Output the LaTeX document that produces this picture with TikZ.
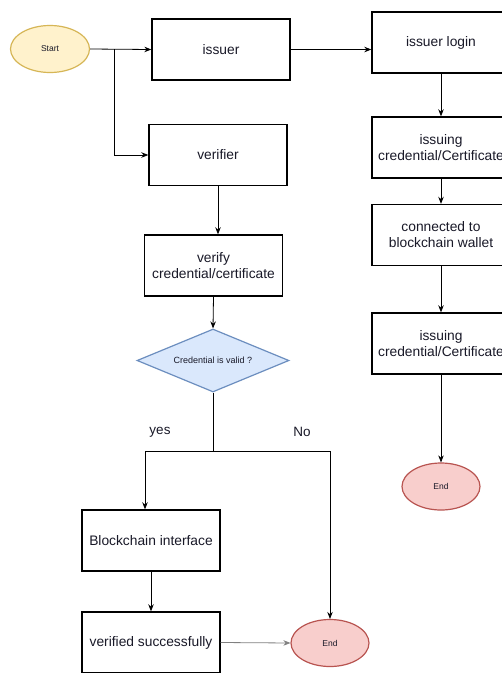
\documentclass[tikz,border=0pt]{standalone}
\usepackage{fontspec}
\setmainfont{Liberation Sans}
\usetikzlibrary{arrows.meta,shapes.geometric}
\definecolor{txt}{RGB}{25,25,40}
\definecolor{startfill}{HTML}{FFF2CC}
\definecolor{startdraw}{HTML}{D6B656}
\definecolor{endfill}{HTML}{F8CECC}
\definecolor{enddraw}{HTML}{B85450}
\definecolor{decfill}{HTML}{DAE8FC}
\definecolor{decdraw}{HTML}{6C8EBF}
\begin{document}
\begin{tikzpicture}[x=1pt,y=-1pt,
  box/.style={draw=black,line width=1.4pt,minimum width=138pt,minimum height=61pt,inner sep=0pt,align=center,font=\fontsize{13.8}{16}\selectfont,text=txt},
  startn/.style={ellipse,draw=startdraw,fill=startfill,line width=1.2pt,minimum width=79pt,minimum height=47pt,inner sep=0pt,font=\fontsize{8.5}{10}\selectfont,text=txt},
  endn/.style={ellipse,draw=enddraw,fill=endfill,line width=1.2pt,minimum width=78pt,minimum height=47pt,inner sep=0pt,font=\fontsize{8.5}{10}\selectfont,text=txt},
  decision/.style={diamond,aspect=2.41,draw=decdraw,fill=decfill,line width=1.2pt,minimum width=152pt,minimum height=63pt,inner sep=0pt,font=\fontsize{9}{10}\selectfont,text=txt},
  lbl/.style={font=\fontsize{13.5}{15}\selectfont,text=txt},
  conn/.style={draw=black,line width=0.8pt,-{Stealth[length=7pt,width=5.5pt]}},
  plain/.style={draw=black,line width=0.8pt}]
\useasboundingbox (0,0) rectangle (502,673);
\fill[white] (0,0) rectangle (502,673);

\node[startn] (start) at (50,49) {Start};
\node[box] (issuer) at (221,49.5) {issuer};
\node[box] (login) at (441,42.5) {issuer login};
\node[box] (iss1) at (441,147.5) {issuing\\credential/Certificate};
\node[box] (wallet) at (441,235) {connected to\\blockchain wallet};
\node[box] (iss2) at (441,343.5) {issuing\\credential/Certificate};
\node[endn] (end1) at (441,486.5) {End};

\node[box] (verifier) at (218,155) {verifier};
\node[box] (verify) at (213.5,265.5) {verify\\credential/certificate};
\node[decision] (valid) at (213,360.5) {Credential is valid ?};
\node[lbl] (yes) at (160,432) {yes};
\node[lbl] (no) at (302,432) {No};
\node[box] (bci) at (151,540.5) {Blockchain interface};
\node[box] (vsucc) at (151,642.5) {verified successfully};
\node[endn] (end2) at (330,643) {End};

\coordinate (sb) at (114,49);
\coordinate (split) at (213,451);
\coordinate (yl) at (145,451);
\coordinate (nr) at (330,451);

\draw[conn] (start.east) -- (issuer.west);
\draw[conn] (sb) |- (verifier.west);
\draw[conn] (issuer.east) -- (issuer.east -| login.west);
\draw[conn] (login.south) -- (iss1.north);
\draw[conn] (iss1.south) -- (wallet.north);
\draw[conn] (wallet.south) -- (iss2.north);
\draw[conn] (iss2.south) -- (end1.north);
\draw[conn] (verifier.south) -- (verifier.south |- verify.north);
\draw[conn] (verify.south) -- (valid.north);
\draw[plain] (valid.south) -- (split);
\draw[conn] (split) -- (yl) -- (yl |- bci.north);
\draw[conn] (split) -- (nr) -- (end2.north);
\draw[conn] (bci.south) -- (vsucc.north);
\draw[conn,draw=gray] (vsucc.east) -- (end2.west);
\end{tikzpicture}
\end{document}
